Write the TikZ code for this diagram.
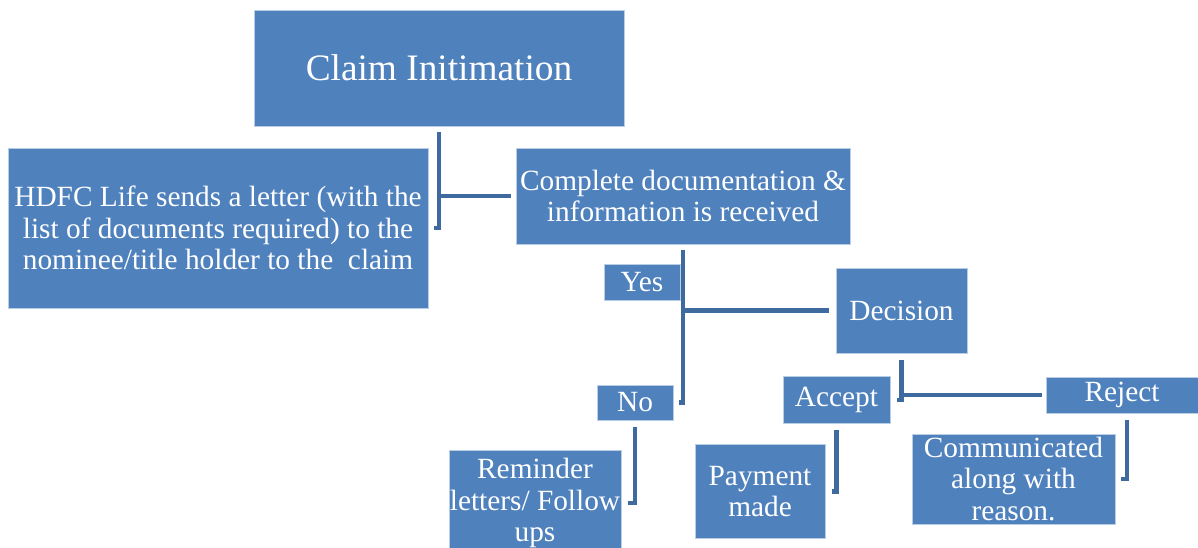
\documentclass[tikz,border=0pt]{standalone}
\usepackage{fontspec}
\setmainfont{Liberation Serif}
\definecolor{boxfill}{RGB}{79,129,189}
\definecolor{boxline}{RGB}{185,205,229}
\definecolor{connblue}{RGB}{62,106,160}
\begin{document}
\begin{tikzpicture}[x=0.75pt,y=-0.75pt,
  box/.style={draw=boxline, line width=0.6pt, fill=boxfill, text=white,
    align=center, inner sep=0pt, font=\fontsize{22}{23.5}\selectfont},
  conn/.style={draw=connblue, line width=3.4pt, line join=miter, line cap=butt}]
\useasboundingbox (0,0) rectangle (1198,547);
% boxes
\node[box, minimum width=277.5pt, minimum height=87pt, font=\fontsize{28}{30}\selectfont] (claim) at (439,68) {Claim Initimation};
\node[box, minimum width=315pt, minimum height=120pt] (hdfc) at (218,228) {HDFC Life sends a letter (with the\\list of documents required) to the\\nominee/title holder to the\ \ claim};
\node[box, minimum width=250.5pt, minimum height=72pt] (complete) at (683,196) {Complete documentation \&\\information is received};
\node[box, minimum width=57pt, minimum height=27pt] (yes) at (642,282) {Yes};
\node[box, minimum width=98.25pt, minimum height=63.75pt] (decision) at (901.5,310.5) {Decision};
\node[box, minimum width=57pt, minimum height=26.25pt] (no) at (635,402.5) {No};
\node[box, minimum width=80.25pt, minimum height=35pt] (accept) at (836.5,400) {Accept};
\node[box, minimum width=114pt, minimum height=27pt] (reject) at (1122,395) {Reject};
\node[box, minimum width=129pt, minimum height=79.5pt] (reminder) at (535,503) {Reminder\\letters/ Follow\\ups};
\node[box, minimum width=97.5pt, minimum height=70.5pt] (payment) at (760,491.5) {Payment\\made};
\node[box, minimum width=152.25pt, minimum height=67.5pt] (comm) at (1013.5,479) {Communicated\\along with\\reason.};
% connectors
\coordinate (c1) at ([yshift=-4.5pt]claim.south);
\draw[conn] ([xshift=-3.75pt]c1 |- hdfc.east) -- (c1 |- hdfc.east) -- (c1);
\draw[conn] (c1 |- complete.west) -- ([xshift=-3.75pt]complete.west);
\coordinate (c2) at ([yshift=-4.5pt]complete.south);
\draw[conn] ([xshift=-3pt]c2 |- no.east) -- (c2 |- no.east) -- (c2);
\draw[conn] (c2 |- decision.west) -- ([xshift=-5pt]decision.west);
\coordinate (c3) at ([yshift=-5pt]decision.south);
\draw[conn] ([xshift=-3.75pt]c3 |- accept.east) -- (c3 |- accept.east) -- (c3);
\draw[conn] (c3 |- reject.west) -- ([xshift=-3pt]reject.west);
\coordinate (c4) at ([yshift=-5pt]no.south);
\draw[conn] ([xshift=5pt]reminder.east) -- (c4 |- reminder.east) -- (c4);
\coordinate (c5) at ([yshift=-4.5pt]accept.south);
\draw[conn] ([xshift=5pt]payment.east) -- (c5 |- payment.east) -- (c5);
\coordinate (c6) at ([xshift=3.75pt,yshift=-5pt]reject.south);
\draw[conn] ([xshift=4.5pt]comm.east) -- (c6 |- comm.east) -- (c6);
\end{tikzpicture}
\end{document}
